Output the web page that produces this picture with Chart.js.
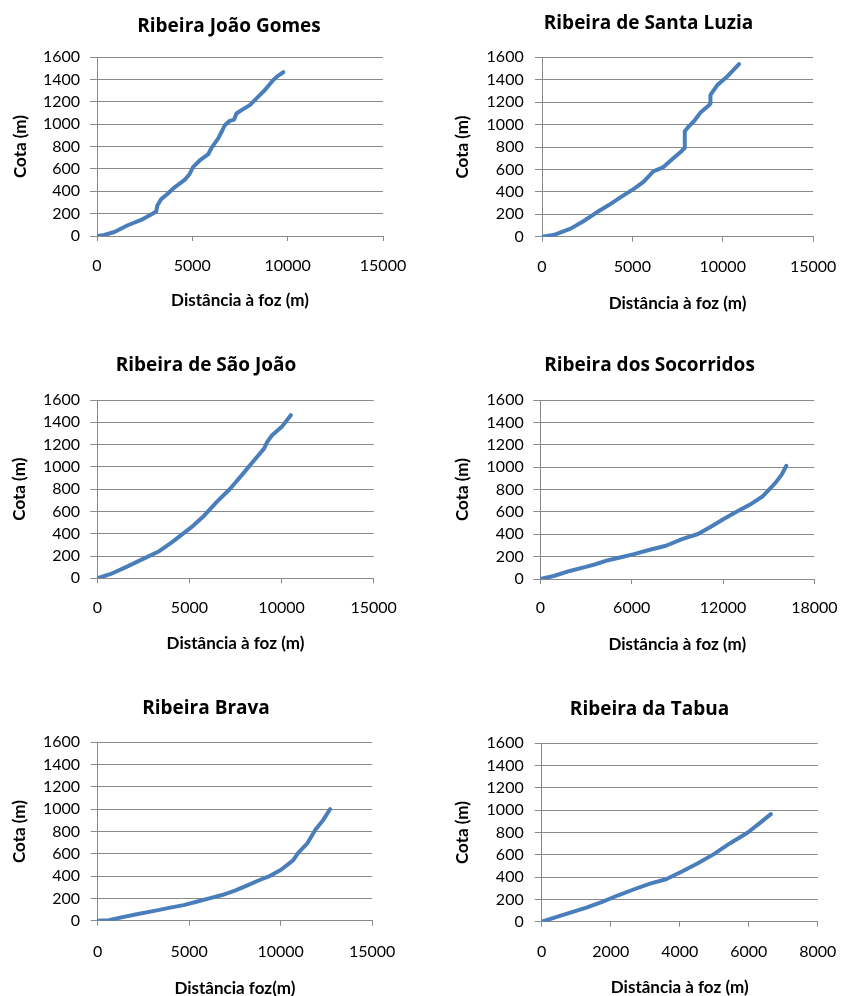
<!DOCTYPE html>
<html><head><meta charset="utf-8">
<script src="https://cdn.jsdelivr.net/npm/chart.js@4/dist/chart.umd.min.js"></script>
<style>
html,body{margin:0;padding:0;background:#fff;overflow:hidden;}
#wrap{position:relative;width:852px;height:996px;overflow:hidden;background:#fff;}
#wrap canvas{position:absolute;}
</style></head><body><div id="wrap"></div>
<script>
// ---------- DATA ----------
const titles = ["Ribeira João Gomes", "Ribeira de Santa Luzia", "Ribeira de São João",
                "Ribeira dos Socorridos", "Ribeira Brava", "Ribeira da Tabua"];
const xAxisTitles = ["Distância à foz (m)", "Distância à foz (m)", "Distância à foz (m)",
                     "Distância à foz (m)", "Distância foz(m)", "Distância à foz (m)"];
const yAxisTitle = "Cota (m)";
const yTickValues = [0, 200, 400, 600, 800, 1000, 1200, 1400, 1600];
const xTicks15000 = [0, 5000, 10000, 15000];
const xTicks18000 = [0, 6000, 12000, 18000];
const xTicks8000  = [0, 2000, 4000, 6000, 8000];

const joaoGomesDist = [0,386,912,1614,2316,2930,3106,3158,3368,3632,4070,4596,4859,5035,5386,5824,6034,6350,6578,6701,6964,7192,7315,7578,8017,8367,8806,9245,9508,9771];
const joaoGomesCota = [0,9,36,96,144,201,219,270,330,366,435,501,555,615,675,729,795,870,945,990,1029,1041,1095,1125,1170,1230,1305,1395,1434,1464];

const santaLuziaDist = [0,704,1584,2288,2992,3696,4400,5104,5632,6160,6688,7216,7700,7880,7900,8061,8448,8800,9240,9300,9320,9690,10216,10900];
const santaLuziaCota = [0,18,72,138,213,282,357,429,492,582,618,693,760,790,940,972,1038,1113,1173,1185,1265,1350,1424,1540];

const saoJoaoDist = [0,735,1610,2485,3360,4060,4760,5110,5810,6510,7210,7910,8435,9048,9223,9485,10010,10500];
const saoJoaoCota = [0,39,105,174,243,324,414,459,564,690,804,939,1044,1164,1224,1284,1359,1464];

const socorridosDist = [0,884,1937,2989,3621,4463,5305,6147,7200,8252,9305,10358,11200,12042,12914,13750,14588,15006,15425,15843,16157];
const socorridosCota = [0,27,72,108,132,168,195,222,261,297,357,402,468,537,603,663,737,797,857,931,1012];

const bravaDist = [0,600,1300,2200,3100,3900,4700,5400,6100,6800,7500,8150,8850,9400,10000,10400,10700,10950,11470,11900,12340,12700];
const bravaCota = [0,5,30,60,88,115,140,170,200,230,270,315,365,400,455,505,545,606,696,816,906,1000];

const tabuaDist = [0,370,832,1293,1755,2217,2679,3141,3603,4065,4527,4989,5451,5973,6300,6640];
const tabuaCota = [0,36,81,126,177,237,291,342,381,450,525,606,702,800,880,965];

const seriesDist = [joaoGomesDist, santaLuziaDist, saoJoaoDist, socorridosDist, bravaDist, tabuaDist];
const seriesCota = [joaoGomesCota, santaLuziaCota, saoJoaoCota, socorridosCota, bravaCota, tabuaCota];
const seriesXTicks = [xTicks15000, xTicks15000, xTicks15000, xTicks18000, xTicks15000, xTicks8000];

// ---------- LAYOUT (page pixels) ----------
const boxes = [
  {L:0,   T:0,   W:458, H:330, pL:97,    pR:383, pT:57,    pB:236,   tCy:24.5,  yTx:20.5,  yLabR:80,    xTickCy:266, xTitCy:301},
  {L:445, T:0,   W:407, H:330, pL:542,   pR:827, pT:57.3,  pB:236.7, tCy:21.5,  yTx:462.7, yLabR:523.7, xTickCy:267, xTitCy:303.5},
  {L:0,   T:340, W:412, H:330, pL:97.3,  pR:384, pT:400,   pB:578.3, tCy:364,   yTx:20,    yLabR:80,    xTickCy:608, xTitCy:643.5},
  {L:447, T:340, W:405, H:330, pL:540.3, pR:827, pT:400,   pB:579,   tCy:364,   yTx:463,   yLabR:523.7, xTickCy:608, xTitCy:645},
  {L:0,   T:680, W:412, H:330, pL:97.7,  pR:384, pT:742.3, pB:920.7, tCy:707,   yTx:20,    yLabR:80,    xTickCy:952, xTitCy:988.5},
  {L:447, T:680, W:405, H:330, pL:541.7, pR:831, pT:743.3, pB:921.7, tCy:707.5, yTx:463,   yLabR:523.7, xTickCy:952, xTitCy:988}
];

const FONT = "Lato";
const TITLE_FONT = "'Open Sans'";
const titleSize = 19, axisSize = 17, tickSize = 16, LH = 1.2;
const titleShift = 2;
const gridColor = "#8a8a8a";
const lineColor = "#4a7ebb";
const yTickLen = 7, xTickLen = 5;

const wrap = document.getElementById('wrap');

boxes.forEach((b, i) => {
  const c = document.createElement('canvas');
  c.width = b.W; c.height = b.H;
  c.style.left = b.L + 'px'; c.style.top = b.T + 'px';
  c.style.width = b.W + 'px'; c.style.height = b.H + 'px';
  wrap.appendChild(c);

  const tLH = titleSize * LH, aLH = axisSize * LH, kLH = tickSize * LH;
  const tPadTop = b.tCy - b.T - tLH / 2 + titleShift;
  const tPadBot = b.pT - b.T - tPadTop - tLH;
  const yW = b.pL - b.L;
  const rGap = b.L + b.W - b.pR;
  const yTitlePad = b.yTx - b.L - aLH / 2;
  const yTickPad = b.pL - b.yLabR - yTickLen;
  const xH = b.T + b.H - b.pB;
  const xTickPad = b.xTickCy - b.pB - xTickLen - kLH / 2;
  const xTitlePadB = b.T + b.H - b.xTitCy - aLH / 2;

  const xt = seriesXTicks[i];
  const pts = seriesDist[i].map((d, k) => ({x: d, y: seriesCota[i][k]}));

  new Chart(c, {
    type: 'line',
    data: { datasets: [{ data: pts, borderColor: lineColor, borderWidth: 4, pointRadius: 0,
      tension: 0, borderJoinStyle: 'round', borderCapStyle: 'round', fill: false }] },
    options: {
      responsive: false, animation: false, devicePixelRatio: 1,
      layout: { padding: 0 },
      plugins: {
        legend: { display: false }, tooltip: { enabled: false },
        title: { display: true, text: titles[i], color: '#000',
          font: { family: TITLE_FONT, size: titleSize, weight: 'bold', lineHeight: LH },
          padding: { top: tPadTop, bottom: tPadBot } }
      },
      scales: {
        x: {
          type: 'linear', position: 'bottom', min: xt[0], max: xt[xt.length - 1],
          afterBuildTicks: s => { s.ticks = xt.map(v => ({value: v})); },
          afterFit: s => { s.height = xH; },
          grid: { drawOnChartArea: false, drawTicks: true, tickLength: xTickLen, color: gridColor, lineWidth: 1 },
          border: { display: true, color: gridColor, width: 1 },
          ticks: { color: '#000', padding: xTickPad, maxRotation: 0, autoSkip: false,
            font: { family: FONT, size: tickSize, lineHeight: LH },
            callback: v => String(v) },
          title: { display: true, text: xAxisTitles[i], color: '#000',
            font: { family: FONT, size: axisSize, weight: 'bold', lineHeight: LH },
            padding: { top: 0, bottom: xTitlePadB } }
        },
        y: {
          type: 'linear', position: 'left', min: yTickValues[0], max: yTickValues[yTickValues.length - 1],
          afterBuildTicks: s => { s.ticks = yTickValues.map(v => ({value: v})); },
          afterFit: s => { s.width = yW; },
          grid: { drawOnChartArea: true, drawTicks: true, tickLength: yTickLen, color: gridColor, lineWidth: 1 },
          border: { display: true, color: gridColor, width: 1 },
          ticks: { color: '#000', padding: yTickPad, autoSkip: false,
            font: { family: FONT, size: tickSize, lineHeight: LH },
            callback: v => String(v) },
          title: { display: true, text: yAxisTitle, color: '#000',
            font: { family: FONT, size: axisSize, weight: 'bold', lineHeight: LH },
            padding: { top: yTitlePad, bottom: 0 } }
        },
        yR: {
          type: 'linear', position: 'right', display: true,
          afterFit: s => { s.width = rGap; },
          grid: { display: false }, border: { display: false },
          ticks: { display: false }, title: { display: false }
        }
      }
    }
  });
});
</script>
</body></html>
